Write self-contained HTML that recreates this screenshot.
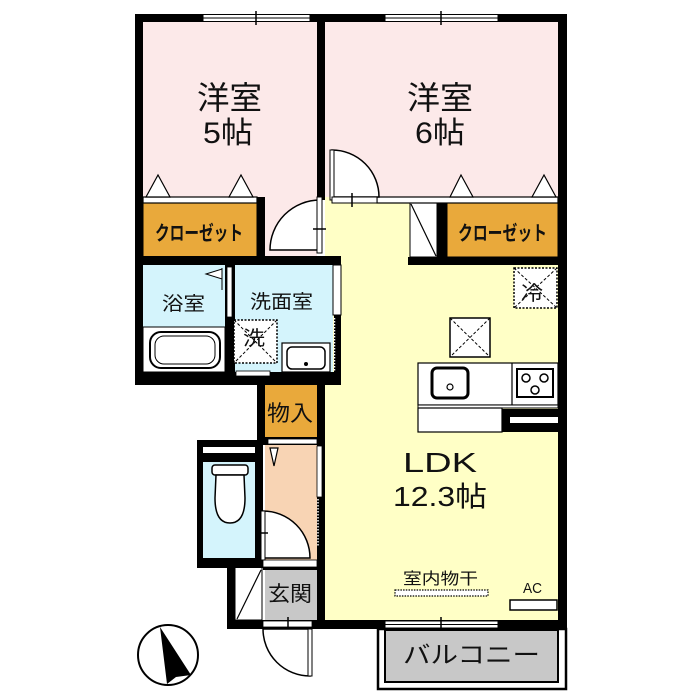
<!DOCTYPE html>
<html><head><meta charset="utf-8"><style>
html,body{margin:0;padding:0;background:#fff;}
svg{display:block;}
text{font-family:"Liberation Sans","Noto Sans CJK JP",sans-serif;fill:#111;}
</style></head><body>
<svg width="700" height="700" viewBox="0 0 700 700" xmlns="http://www.w3.org/2000/svg">
<rect width="700" height="700" fill="#fff"/>
<!-- fills -->
<rect x="143" y="22" width="174" height="234" fill="#fce9e9"/>
<rect x="325" y="22" width="233" height="176" fill="#fce9e9"/>
<rect x="325" y="197" width="233" height="423" fill="#ffffc6"/>
<rect x="143" y="203" width="114" height="54" fill="#e9a93b" stroke="#000" stroke-width="1"/>
<rect x="447" y="203" width="111" height="54" fill="#e9a93b" stroke="#000" stroke-width="1"/>
<rect x="143" y="265" width="82" height="62" fill="#d4f4fc"/>
<rect x="143" y="327" width="82" height="45" fill="#fff" stroke="#000" stroke-width="1"/>
<rect x="235" y="265" width="98" height="107" fill="#d4f4fc"/>
<rect x="265" y="385" width="52" height="52" fill="#e9a93b"/>
<rect x="265" y="445" width="52" height="115" fill="#f8d4b4"/>
<rect x="265" y="570" width="52" height="50" fill="#c8c8c8"/>
<rect x="235" y="567" width="27" height="53" fill="#fff" stroke="#000" stroke-width="1"/>
<line x1="261" y1="570" x2="237" y2="619" stroke="#000" stroke-width="1.2"/>

<!-- walls -->
<rect x="135" y="14" width="432" height="8" fill="#000"/>
<rect x="135" y="14" width="8" height="371" fill="#000"/>
<rect x="558" y="14" width="9" height="615" fill="#000"/>
<rect x="317" y="14" width="8" height="186" fill="#000"/>
<rect x="257" y="197" width="8" height="60" fill="#000"/>
<rect x="135" y="256" width="206" height="9" fill="#000"/>
<rect x="408" y="257" width="159" height="8" fill="#000"/>
<rect x="437" y="202" width="10" height="56" fill="#000"/>
<rect x="410" y="203" width="27" height="54" fill="#fff" stroke="#000" stroke-width="1"/>
<line x1="411" y1="204" x2="436" y2="256" stroke="#000" stroke-width="1.2"/>
<!-- bath/wash divider -->
<rect x="225" y="265" width="10" height="110" fill="#000"/>
<rect x="227" y="267" width="5" height="50" fill="#fff" stroke="#000" stroke-width="0.8"/>
<!-- wash right wall -->
<rect x="333" y="265" width="8" height="50" fill="#fff" stroke="#000" stroke-width="1"/>
<rect x="334" y="315" width="7" height="65" fill="#000"/>
<line x1="334.5" y1="318" x2="334.5" y2="378" stroke="#fff" stroke-width="1.5" stroke-dasharray="1.5,1.5"/>
<!-- bottom of bath/wash -->
<rect x="135" y="372" width="206" height="13" fill="#000"/>
<rect x="236" y="371" width="34" height="5" fill="#fff" stroke="#000" stroke-width="0.8"/>
<!-- storage walls -->
<rect x="257" y="385" width="8" height="60" fill="#000"/>
<rect x="317" y="385" width="8" height="235" fill="#000"/>
<rect x="317" y="446" width="5" height="51" fill="#fff" stroke="#000" stroke-width="0.8"/>
<line x1="318" y1="499" x2="318" y2="546" stroke="#fff" stroke-width="1.5" stroke-dasharray="1.5,1.5"/>
<rect x="265" y="437" width="52" height="8" fill="#000"/>
<rect x="268" y="439" width="49" height="5" fill="#fff" stroke="#000" stroke-width="0.8"/>
<!-- toilet block -->
<rect x="197" y="440" width="66" height="128" fill="#000"/>
<rect x="203" y="462" width="52" height="96" fill="#d4f4fc"/>
<rect x="203" y="447" width="52" height="6" fill="#fff"/>
<rect x="263" y="560" width="54" height="7" fill="#fff" stroke="#000" stroke-width="0.8"/>
<rect x="263" y="567" width="54" height="3" fill="#000"/>
<!-- entry left wall & bottom wall -->
<rect x="227" y="567" width="8" height="62" fill="#000"/>
<rect x="227" y="620" width="340" height="9" fill="#000"/>
<rect x="263" y="621" width="49" height="6" fill="#fff" stroke="#000" stroke-width="0.8"/>
<line x1="288" y1="617" x2="288" y2="631" stroke="#000" stroke-width="1.5"/>

<!-- windows -->
<g stroke="#000" stroke-width="1">
<rect x="203" y="14.5" width="107" height="7" fill="#fff"/>
<line x1="203" y1="18" x2="310" y2="18"/>
<line x1="256" y1="11" x2="256" y2="25" stroke-width="1.5"/>
<rect x="385" y="14.5" width="113" height="7" fill="#fff"/>
<line x1="385" y1="18" x2="498" y2="18"/>
<line x1="441" y1="11" x2="441" y2="25" stroke-width="1.5"/>
<rect x="385" y="621" width="113" height="7" fill="#fff"/>
<line x1="385" y1="624.5" x2="498" y2="624.5"/>
<line x1="441" y1="617" x2="441" y2="631" stroke-width="1.5"/>
</g>

<!-- room bottom strips & triangles -->
<g stroke="#000" stroke-width="1.2" fill="#fff">
<rect x="143" y="197" width="114" height="6"/>
<rect x="377" y="197" width="181" height="6"/>
<polygon points="146,197 158,175 170,197"/>
<polygon points="229,197 241,175 253,197"/>
<polygon points="450,197 461,175 473,197"/>
<polygon points="532,197 544,175 556,197"/>
</g>

<!-- doors -->
<g stroke="#000" stroke-width="1.5" fill="#fff">
<path d="M320,250 L270,250 A50,50 0 0 1 320,200 Z"/>
<rect x="317" y="197" width="5" height="56" stroke-width="1"/>
<line x1="313" y1="229" x2="326" y2="229"/>
<path d="M332,197 L332,150 A47,47 0 0 1 379,197 Z"/>
<rect x="330" y="150" width="4" height="50" stroke-width="1"/>
<rect x="332" y="197" width="45" height="6" stroke-width="1"/>
<line x1="352" y1="193" x2="352" y2="207"/>
<path d="M263,558 L263,511 A47,47 0 0 1 310,558 Z"/>
<rect x="261" y="511" width="4" height="49" stroke-width="1"/>
<line x1="255" y1="533" x2="268" y2="533"/>
<path d="M310,629 L263,629 A47,47 0 0 0 310,676 Z"/>
<rect x="308" y="629" width="4" height="47" stroke-width="1"/>
<polygon points="270,448 278,448 274,466" stroke-width="1.2"/>
</g>

<!-- bath details -->
<rect x="150" y="332" width="70" height="36" rx="11" fill="#fff" stroke="#000" stroke-width="2"/>
<rect x="155" y="336" width="60" height="28" rx="9" fill="#fff" stroke="#000" stroke-width="1"/>
<path d="M206,274 L222,269 L222,279 Z" fill="#fff" stroke="#000" stroke-width="1"/>
<line x1="222" y1="268" x2="222" y2="290" stroke="#000" stroke-width="1"/>
<!-- washer box -->
<rect x="234" y="320" width="43" height="43" fill="#fff" stroke="#000" stroke-width="1.5" stroke-dasharray="2,1.5"/>
<line x1="234" y1="320" x2="277" y2="363" stroke="#000" stroke-width="1" stroke-dasharray="3,2"/>
<line x1="277" y1="320" x2="234" y2="363" stroke="#000" stroke-width="1" stroke-dasharray="3,2"/>
<!-- wash sink -->
<rect x="282" y="343" width="48" height="29" fill="#fff" stroke="#000" stroke-width="1.2"/>
<rect x="287" y="347" width="38" height="22" rx="5" fill="#fff" stroke="#000" stroke-width="1.5"/>
<circle cx="306" cy="364" r="2" fill="#000"/>
<!-- toilet -->
<rect x="212" y="465" width="36" height="10" rx="3" fill="#fff" stroke="#000" stroke-width="1.5"/>
<path d="M216,475 L244,475 L245,498 Q245,523 230,523 Q215,523 215,498 Z" fill="#fff" stroke="#000" stroke-width="1.5"/>

<!-- kitchen -->
<rect x="514" y="268" width="43" height="40" fill="#fff" stroke="#000" stroke-width="1.5" stroke-dasharray="2,1.5"/>
<line x1="514" y1="268" x2="557" y2="308" stroke="#000" stroke-width="1" stroke-dasharray="3,2"/>
<line x1="557" y1="268" x2="514" y2="308" stroke="#000" stroke-width="1" stroke-dasharray="3,2"/>
<rect x="450" y="318" width="40" height="39" fill="#fff" stroke="#000" stroke-width="1.5"/>
<line x1="450" y1="318" x2="490" y2="357" stroke="#000" stroke-width="1" stroke-dasharray="3,2"/>
<line x1="490" y1="318" x2="450" y2="357" stroke="#000" stroke-width="1" stroke-dasharray="3,2"/>
<rect x="418" y="363" width="140" height="42" fill="#fff" stroke="#000" stroke-width="1.2"/>
<line x1="512" y1="363" x2="512" y2="405" stroke="#000" stroke-width="1.2"/>
<rect x="432" y="368" width="36" height="30" rx="5" fill="#fff" stroke="#000" stroke-width="3"/>
<circle cx="450" cy="387" r="3" fill="#fff" stroke="#000" stroke-width="1.2"/>
<rect x="517" y="369" width="36" height="28" fill="#fff" stroke="#000" stroke-width="2"/>
<circle cx="526" cy="378" r="4" fill="#fff" stroke="#000" stroke-width="1.5"/>
<circle cx="544" cy="378" r="4" fill="#fff" stroke="#000" stroke-width="1.5"/>
<circle cx="535" cy="390" r="4" fill="#fff" stroke="#000" stroke-width="1.5"/>
<rect x="418" y="405" width="140" height="3" fill="#fff" stroke="#000" stroke-width="1"/>
<rect x="418" y="408" width="84" height="24" fill="#fff" stroke="#000" stroke-width="1.2"/>
<rect x="502" y="409" width="56" height="23" fill="#000"/>
<rect x="510" y="417" width="48" height="6" fill="#fff"/>
<!-- indoor drying bar & AC -->
<rect x="395" y="590" width="93" height="6" fill="#fff" stroke="#000" stroke-width="1.2" stroke-dasharray="1.5,1.2"/>
<rect x="510" y="600" width="47" height="10" fill="#fff" stroke="#000" stroke-width="1.5"/>

<!-- balcony -->
<rect x="378" y="629" width="188" height="60" fill="#fff" stroke="#000" stroke-width="2.5"/>
<rect x="385" y="630" width="173" height="52" fill="#c8c8c8" stroke="#000" stroke-width="2"/>

<!-- compass -->
<circle cx="168" cy="655" r="30" fill="#fff" stroke="#000" stroke-width="2"/>
<polygon points="160,627 191,675 176,677 167,684" fill="#000"/>

<!-- texts -->
<text x="197" y="109" font-size="32" textLength="65" lengthAdjust="spacingAndGlyphs">洋室</text>
<text x="203" y="143" font-size="30" textLength="50" lengthAdjust="spacingAndGlyphs">5帖</text>
<text x="407" y="109" font-size="32" textLength="66" lengthAdjust="spacingAndGlyphs">洋室</text>
<text x="415" y="143" font-size="30" textLength="50" lengthAdjust="spacingAndGlyphs">6帖</text>
<text x="155" y="240" font-size="20" font-weight="bold" textLength="88" lengthAdjust="spacingAndGlyphs">クローゼット</text>
<text x="458" y="240" font-size="20" font-weight="bold" textLength="89" lengthAdjust="spacingAndGlyphs">クローゼット</text>
<text x="162" y="310" font-size="19" textLength="43" lengthAdjust="spacingAndGlyphs" fill="#222">浴室</text>
<text x="250" y="308" font-size="19" textLength="63" lengthAdjust="spacingAndGlyphs" fill="#222">洗面室</text>
<text x="243" y="345" font-size="20" textLength="22" lengthAdjust="spacingAndGlyphs">洗</text>
<text x="521" y="300" font-size="20" textLength="22" lengthAdjust="spacingAndGlyphs">冷</text>
<text x="267" y="421" font-size="22" textLength="46" lengthAdjust="spacingAndGlyphs">物入</text>
<text x="268" y="601" font-size="21" textLength="44" lengthAdjust="spacingAndGlyphs" fill="#444">玄関</text>
<text x="403" y="472" font-size="28" textLength="74" lengthAdjust="spacingAndGlyphs">LDK</text>
<text x="393" y="506" font-size="28" textLength="94" lengthAdjust="spacingAndGlyphs">12.3帖</text>
<text x="403" y="584" font-size="16" textLength="75" lengthAdjust="spacingAndGlyphs" fill="#333">室内物干</text>
<text x="523" y="593" font-size="15" textLength="19" lengthAdjust="spacingAndGlyphs" fill="#222">AC</text>
<text x="403" y="663" font-size="24" textLength="137" lengthAdjust="spacingAndGlyphs" fill="#222">バルコニー</text>
</svg>
</body></html>
